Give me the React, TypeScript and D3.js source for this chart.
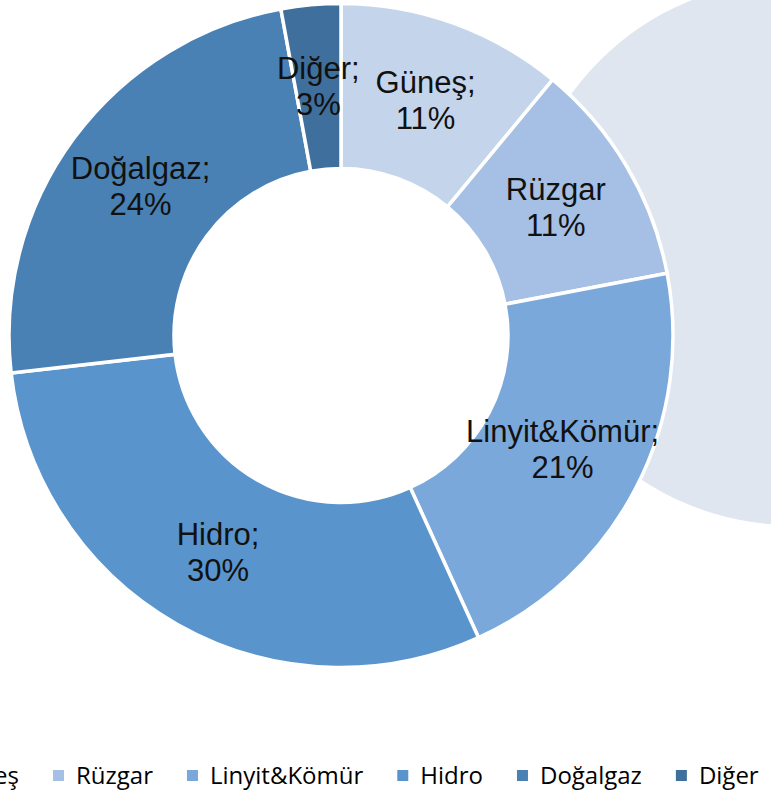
import { useRef, useEffect } from 'react';
import * as d3 from 'd3';

const categories = ['Güneş', 'Rüzgar', 'Linyit&Kömür', 'Hidro', 'Doğalgaz', 'Diğer'];
const shares = [11.0, 11.0, 21.2, 30.0, 23.9, 2.9];
const colors = ['#c4d5eb', '#a5c0e4', '#7ba8da', '#5995cc', '#4a81b5', '#3f6f9d'];

export default function App() {
  const svgRef = useRef<SVGSVGElement>(null);

  useEffect(() => {
    if (!svgRef.current) return;
    const width = 771;
    const height = 794;
    const cx = 341;
    const cy = 335.5;
    const outer = 332;
    const inner = 167;

    const svg = d3.select(svgRef.current);
    svg.selectAll('*').remove();
    svg.attr('width', width).attr('height', height);

    // decorative circle behind
    svg.append('circle')
      .attr('cx', 792)
      .attr('cy', 253)
      .attr('r', 272)
      .attr('fill', '#dfe6f0');

    const data = categories.map((c, i) => ({ name: c, value: shares[i], color: colors[i] }));
    const total = d3.sum(shares);

    const pie = d3.pie<any>().value(d => d.value).sort(null);
    const arc = d3.arc<any>().innerRadius(inner).outerRadius(outer);
    const arcs = pie(data);

    const g = svg.append('g').attr('transform', `translate(${cx},${cy})`);

    g.selectAll('path')
      .data(arcs)
      .join('path')
      .attr('d', arc)
      .attr('fill', d => d.data.color)
      .attr('stroke', '#fff')
      .attr('stroke-width', 3.5);

    // slice labels
    const labels = g.selectAll('g.lbl')
      .data(arcs)
      .join('g')
      .attr('class', 'lbl')
      .attr('transform', d => {
        const [x, y] = arc.centroid(d);
        return `translate(${x},${y})`;
      });

    labels.append('text')
      .attr('text-anchor', 'middle')
      .attr('y', -8)
      .attr('font-family', '"Liberation Sans", Arial, sans-serif')
      .attr('font-size', 31)
      .attr('fill', '#111')
      .text(d => d.data.name === 'Rüzgar' ? d.data.name : `${d.data.name};`);

    labels.append('text')
      .attr('text-anchor', 'middle')
      .attr('y', 28)
      .attr('font-family', '"Liberation Sans", Arial, sans-serif')
      .attr('font-size', 31)
      .attr('fill', '#111')
      .text(d => `${Math.round((d.data.value / total) * 100)}%`);

    // legend
    const legend = svg.append('g');
    const items = legend.selectAll('g')
      .data(data)
      .join('g');

    items.append('rect')
      .attr('width', 11)
      .attr('height', 11)
      .attr('y', 770)
      .attr('fill', d => d.color);

    items.append('text')
      .attr('x', 23)
      .attr('y', 784)
      .attr('font-family', '"Open Sans", sans-serif')
      .attr('font-size', 24)
      .attr('fill', '#000')
      .text(d => d.name);

    const widths: number[] = [];
    items.selectAll<SVGTextElement, any>('text').each(function () {
      widths.push(this.getComputedTextLength());
    });

    // anchor: Rüzgar marker at x=53
    const xs: number[] = [];
    let x = 53;
    xs[1] = x;
    for (let i = 2; i < data.length; i++) {
      x = x + 23 + widths[i - 1] + 34;
      xs[i] = x;
    }
    xs[0] = 53 - 34 - widths[0] - 23;
    items.attr('transform', (_, i) => `translate(${xs[i]},0)`);
  }, []);

  return (
    <svg
      ref={svgRef}
      style={{ position: 'absolute', left: 0, top: 0, display: 'block' }}
    />
  );
}
